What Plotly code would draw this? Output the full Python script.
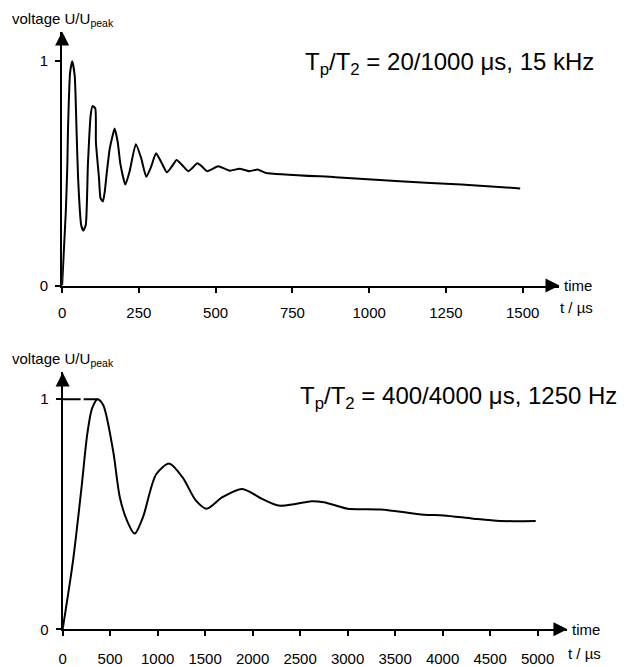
import plotly.graph_objects as go

# ---- data ----
top_t = [0, 12, 17, 19, 26, 33, 41, 47, 52, 62, 69, 77, 84, 93, 99, 108, 110, 120, 125, 133,
         139, 146, 155, 163, 171, 181, 190, 206, 220, 240, 257, 274, 290, 306, 323, 341, 357,
         373, 392, 411, 425, 440, 456, 472, 490, 508, 546, 578, 610, 637, 664, 890, 1100, 1300, 1492]
top_u = [0, 0.33, 0.54, 0.69, 0.95, 1.0, 0.935, 0.69, 0.48, 0.27, 0.245, 0.27, 0.54, 0.76, 0.80,
         0.79, 0.64, 0.48, 0.39, 0.375, 0.42, 0.51, 0.61, 0.66, 0.70, 0.64, 0.54, 0.45, 0.51, 0.63,
         0.57, 0.485, 0.53, 0.59, 0.55, 0.505, 0.53, 0.56, 0.535, 0.51, 0.525, 0.545, 0.53, 0.51,
         0.52, 0.532, 0.512, 0.521, 0.51, 0.517, 0.502, 0.483, 0.465, 0.45, 0.433]

bot_t = [0, 110, 200, 260, 310, 369, 428, 532, 602, 680, 758, 846, 985, 1124, 1263, 1402, 1514,
         1681, 1890, 2098, 2272, 2450, 2620, 2750, 2900, 3000, 3351, 3803, 4012, 4325, 4604, 4980]
bot_u = [0, 0.30, 0.62, 0.85, 0.96, 1.0, 0.974, 0.774, 0.574, 0.47, 0.416, 0.488, 0.674, 0.72,
         0.66, 0.56, 0.524, 0.574, 0.61, 0.567, 0.538, 0.545, 0.557, 0.552, 0.535, 0.524, 0.521,
         0.498, 0.495, 0.481, 0.471, 0.471]

top_ticks = [0, 250, 500, 750, 1000, 1250, 1500]
bot_ticks = [0, 500, 1000, 1500, 2000, 2500, 3000, 3500, 4000, 4500, 5000]
y_ticks = [0, 1]

top_title = "T<sub>p</sub>/T<sub>2</sub> = 20/1000 μs, 15 kHz"
bot_title = "T<sub>p</sub>/T<sub>2</sub> = 400/4000 μs, 1250 Hz"
y_label = "voltage U/U<sub>peak</sub>"

W, H = 636, 667
FONT = "Liberation Sans, Arial, sans-serif"

def px(x):
    return x / W

def py(y):
    return 1 - y / H

fig = go.Figure()
fig.add_trace(go.Scatter(x=top_t, y=top_u, mode="lines", line=dict(color="black", width=2,
                         shape="spline", smoothing=0.5), xaxis="x", yaxis="y"))
fig.add_trace(go.Scatter(x=bot_t, y=bot_u, mode="lines", line=dict(color="black", width=2,
                         shape="spline", smoothing=0.8), xaxis="x2", yaxis="y2"))
# dashed reference line at the peak of the lower curve
i_pk = bot_u.index(max(bot_u))
fig.add_trace(go.Scatter(x=[0, bot_t[i_pk]], y=[bot_u[i_pk], bot_u[i_pk]], mode="lines",
                         line=dict(color="black", width=2, dash="18px,3px"),
                         xaxis="x2", yaxis="y2"))

top_xmax = 1620
top_ymax = 1.132
bot_xmax = 5314
bot_ymax = 1.116

ax_common = dict(showline=True, linecolor="black", linewidth=2, showgrid=False, zeroline=False,
                 ticks="outside", ticklen=5, tickwidth=1.5, tickcolor="black",
                 tickfont=dict(family=FONT, size=15, color="black"), mirror=False)

fig.update_layout(
    width=W, height=H, margin=dict(l=0, r=0, t=0, b=0),
    paper_bgcolor="white", plot_bgcolor="white", showlegend=False,
    xaxis=dict(domain=[px(58.5), px(559)], range=[0, top_xmax], tickvals=top_ticks,
               anchor="y", ticklabelstandoff=7, **ax_common),
    yaxis=dict(domain=[py(289), py(32)], range=[0, top_ymax], tickvals=y_ticks,
               anchor="x", ticklabelstandoff=4, **ax_common),
    xaxis2=dict(domain=[px(59), px(567)], range=[0, bot_xmax], tickvals=bot_ticks,
                anchor="y2", ticklabelstandoff=10, **ax_common),
    yaxis2=dict(domain=[py(637), py(377)], range=[0, bot_ymax], tickvals=y_ticks,
                anchor="x2", ticklabelstandoff=4, **ax_common),
)

arrow = dict(showarrow=True, text="", arrowhead=2, arrowsize=1.4, arrowwidth=2,
             arrowcolor="black", standoff=0)
fig.add_annotation(x=top_xmax, y=0, xref="x", yref="y", ax=-12, ay=0, **arrow)
fig.add_annotation(x=0, y=top_ymax, xref="x", yref="y", ax=0, ay=12, **arrow)
fig.add_annotation(x=bot_xmax, y=0, xref="x2", yref="y2", ax=-12, ay=0, **arrow)
fig.add_annotation(x=0, y=bot_ymax, xref="x2", yref="y2", ax=0, ay=12, **arrow)

def label(text, x, y, size=15, xanchor="left"):
    fig.add_annotation(text=text, x=px(x), y=py(y), xref="paper", yref="paper",
                       xanchor=xanchor, yanchor="middle", showarrow=False,
                       font=dict(family=FONT, size=size, color="black"))

label(y_label, 6, 20, 15)
label(y_label, 6, 364, 15)
label("time", 562, 289, 15)
label("t / µs", 558, 311, 15)
label("time", 570, 637, 15)
label("t / µs", 566, 661, 15)
label(top_title, 301, 64, 24)
label(bot_title, 296, 402, 24)

fig.write_html("out.html")
